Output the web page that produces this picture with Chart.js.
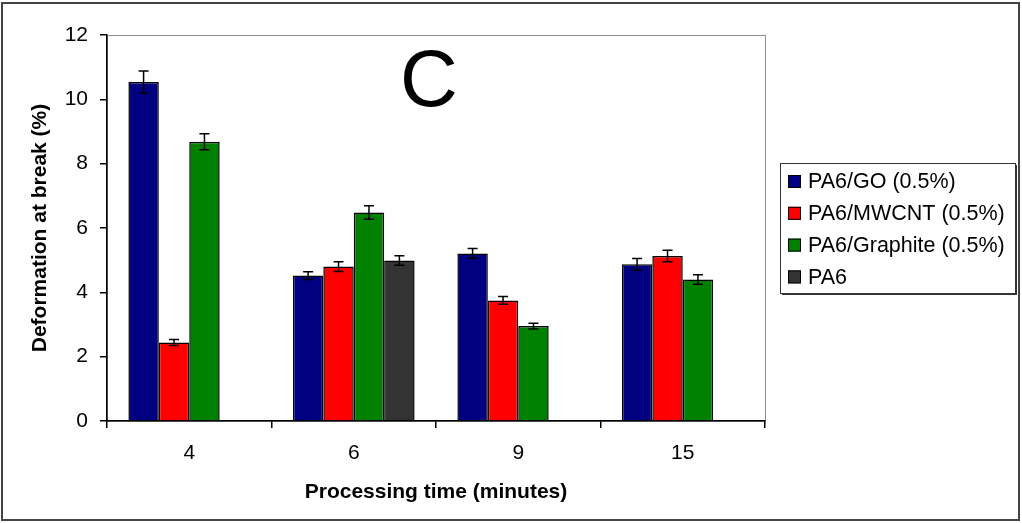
<!DOCTYPE html>
<html>
<head>
<meta charset="utf-8">
<title>Deformation at break</title>
<script src="https://cdn.jsdelivr.net/npm/chart.js@4.4.1/dist/chart.umd.min.js"></script>
<style>
  html, body { margin: 0; padding: 0; background: #fff; }
  canvas { display: block; }
</style>
</head>
<body>
<canvas id="chart" width="1022" height="523"></canvas>
<script>
// Processing time categories (minutes)
const categories = ['4', '6', '9', '15'];

// Deformation at break (%), with error bar half-lengths
const goValues = [10.54, 4.52, 5.21, 4.87];
const goErrors = [0.34, 0.12, 0.15, 0.18];
const mwcntValues = [2.44, 4.80, 3.75, 5.13];
const mwcntErrors = [0.09, 0.15, 0.12, 0.18];
const graphiteValues = [8.68, 6.48, 2.95, 4.40];
const graphiteErrors = [0.25, 0.21, 0.09, 0.15];
const pa6Values = [null, 4.99, null, null];
const pa6Errors = [null, 0.15, null, null];

const yMin = 0;
const yMax = 12;
const yStep = 2;

const FONT = '"Liberation Sans", Arial, sans-serif';

// white page, outer frame and grey plot border
const framePlugin = {
  id: 'frame',
  beforeDraw(chart) {
    const { ctx, chartArea } = chart;
    ctx.save();
    ctx.fillStyle = '#fff';
    ctx.fillRect(0, 0, chart.width, chart.height);
    ctx.strokeStyle = '#444';
    ctx.lineWidth = 2;
    ctx.strokeRect(2, 3, 1017, 517);
    ctx.strokeStyle = '#909090';
    ctx.lineWidth = 1;
    ctx.strokeRect(chartArea.left + 0.5, chartArea.top + 0.5,
      chartArea.right - chartArea.left, chartArea.bottom - chartArea.top);
    ctx.restore();
  }
};

// error bars taken from each dataset's errors array
const errorBarPlugin = {
  id: 'errorBars',
  afterDatasetsDraw(chart) {
    const { ctx } = chart;
    const yScale = chart.scales.y;
    ctx.save();
    ctx.strokeStyle = '#000';
    ctx.lineWidth = 1.5;
    chart.data.datasets.forEach((ds, di) => {
      const meta = chart.getDatasetMeta(di);
      meta.data.forEach((bar, i) => {
        const v = ds.data[i];
        const e = ds.errors[i];
        if (v == null || e == null) return;
        const yTop = yScale.getPixelForValue(v + e);
        const yBot = yScale.getPixelForValue(v - e);
        const x = bar.x;
        const cap = 5;
        ctx.beginPath();
        ctx.moveTo(x, yTop);
        ctx.lineTo(x, yBot);
        ctx.moveTo(x - cap, yTop);
        ctx.lineTo(x + cap, yTop);
        ctx.moveTo(x - cap, yBot);
        ctx.lineTo(x + cap, yBot);
        ctx.stroke();
      });
    });
    ctx.restore();
  }
};

// big panel letter and boxed legend on the right
const annotatePlugin = {
  id: 'annotate',
  afterDraw(chart) {
    const { ctx } = chart;
    ctx.save();
    ctx.fillStyle = '#000';
    ctx.font = '80px ' + FONT;
    ctx.textAlign = 'center';
    ctx.textBaseline = 'middle';
    ctx.fillText('C', 429, 84);

    // legend box with shadow
    const bx = 780, by = 163, bw = 235, bh = 130;
    ctx.fillStyle = '#333';
    ctx.fillRect(bx + 2, by + 2, bw, bh);
    ctx.fillStyle = '#fff';
    ctx.fillRect(bx, by, bw, bh);
    ctx.strokeStyle = '#333';
    ctx.lineWidth = 1;
    ctx.strokeRect(bx + 0.5, by + 0.5, bw, bh);

    ctx.font = '21.5px ' + FONT;
    ctx.textAlign = 'left';
    chart.data.datasets.forEach((ds, i) => {
      const cy = 181.5 + i * 31.8;
      ctx.fillStyle = ds.backgroundColor;
      ctx.fillRect(788, cy - 6.5, 13, 13);
      ctx.strokeStyle = '#000';
      ctx.strokeRect(788.5, cy - 6, 12, 12);
      ctx.fillStyle = '#000';
      ctx.fillText(ds.label, 808, cy + 1);
    });
    ctx.restore();
  }
};

function makeSet(label, data, errors, color) {
  return {
    label: label,
    data: data,
    errors: errors,
    backgroundColor: color,
    borderColor: '#000',
    borderWidth: 1.5,
    borderSkipped: 'bottom',
    barPercentage: 1,
    categoryPercentage: 0.74
  };
}

new Chart(document.getElementById('chart'), {
  type: 'bar',
  data: {
    labels: categories,
    datasets: [
      makeSet('PA6/GO (0.5%)', goValues, goErrors, '#000080'),
      makeSet('PA6/MWCNT (0.5%)', mwcntValues, mwcntErrors, '#ff0000'),
      makeSet('PA6/Graphite (0.5%)', graphiteValues, graphiteErrors, '#008000'),
      makeSet('PA6', pa6Values, pa6Errors, '#333333')
    ]
  },
  options: {
    responsive: false,
    animation: false,
    layout: {
      padding: { left: 28, right: 257, top: 35, bottom: 18 }
    },
    plugins: {
      legend: { display: false },
      title: { display: false },
      tooltip: { enabled: false }
    },
    scales: {
      x: {
        grid: {
          offset: true,
          drawOnChartArea: false,
          drawTicks: true,
          tickLength: 7,
          lineWidth: 1.5,
          color: '#000'
        },
        border: { color: '#000', width: 1.5 },
        ticks: {
          color: '#000',
          padding: 13,
          font: { family: FONT, size: 21 }
        },
        title: {
          display: true,
          text: 'Processing time (minutes)',
          color: '#000',
          padding: 0,
          font: { family: FONT, size: 21, weight: 'bold' }
        },
        afterFit(scale) { scale.height = 84; }
      },
      y: {
        min: yMin,
        max: yMax,
        grid: {
          drawOnChartArea: false,
          drawTicks: true,
          tickLength: 7,
          lineWidth: 1.5,
          color: '#000'
        },
        border: { color: '#000', width: 1.5 },
        ticks: {
          stepSize: yStep,
          color: '#000',
          padding: 12,
          font: { family: FONT, size: 21 }
        },
        title: {
          display: true,
          text: 'Deformation at break (%)',
          color: '#000',
          padding: 0,
          font: { family: FONT, size: 21, weight: 'bold' }
        },
        afterFit(scale) { scale.width = 79; }
      }
    }
  },
  plugins: [framePlugin, errorBarPlugin, annotatePlugin]
});
</script>
</body>
</html>
